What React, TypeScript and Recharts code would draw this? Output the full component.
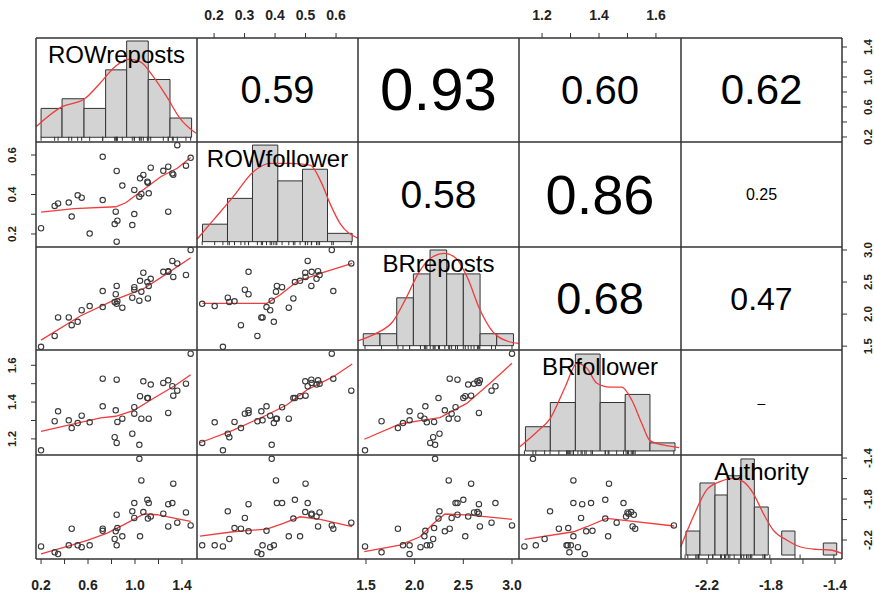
import React from 'react';
import { ComposedChart, Scatter, Line, XAxis, YAxis, ReferenceArea } from 'recharts';

const VARIABLES = ['ROWreposts', 'ROWfollower', 'BRreposts', 'BRfollower', 'Authority'];

const ROW_REPOSTS = [0.2, 0.316, 0.345, 0.436, 0.461, 0.512, 0.546, 0.614, 0.725, 0.725, 0.827, 0.836, 0.844, 0.844, 0.85, 0.892, 0.977, 0.994, 0.994, 1.037, 1.043, 1.054, 1.071, 1.105, 1.11, 1.117, 1.134, 1.241, 1.283, 1.283, 1.318, 1.326, 1.36, 1.434, 1.474];
const ROW_FOLLOWER = [0.229, 0.342, 0.355, 0.359, 0.288, 0.396, 0.384, 0.202, 0.591, 0.372, 0.25, 0.313, 0.519, 0.161, 0.267, 0.445, 0.245, 0.423, 0.301, 0.389, 0.482, 0.403, 0.499, 0.465, 0.46, 0.406, 0.536, 0.52, 0.541, 0.313, 0.507, 0.5, 0.65, 0.546, 0.586];
const BR_REPOSTS = [1.49, 1.66, 1.948, 1.948, 1.828, 1.88, 2.06, 2.125, 2.36, 2.11, 2.19, 2.31, 2.44, 2.16, 2.2, 2.1, 2.255, 2.42, 2.38, 2.21, 2.52, 2.35, 2.645, 2.5, 2.245, 2.44, 2.55, 2.66, 2.67, 2.66, 2.83, 2.58, 2.79, 2.61, 3.0];
const BR_FOLLOWER = [1.138, 1.296, 1.35, 1.301, 1.259, 1.286, 1.326, 1.29, 1.527, 1.377, 1.209, 1.355, 1.522, 1.178, 1.292, 1.31, 1.228, 1.372, 1.337, 1.168, 1.432, 1.31, 1.513, 1.422, 1.422, 1.31, 1.495, 1.504, 1.518, 1.341, 1.486, 1.435, 1.462, 1.5, 1.663];
const AUTHORITY = [-2.262, -2.32, -2.337, -2.252, -2.09, -2.252, -2.27, -2.252, -2.09, -2.11, -2.19, -2.115, -1.953, -2.252, -2.083, -2.164, -1.92, -1.839, -1.985, -1.407, -2.164, -1.618, -1.927, -1.807, -1.99, -1.839, -1.97, -1.943, -2.067, -1.85, -1.839, -1.65, -2.03, -1.93, -2.057];
const SERIES = [ROW_REPOSTS, ROW_FOLLOWER, BR_REPOSTS, BR_FOLLOWER, AUTHORITY];

// histograms on the diagonal: breaks and bar heights (counts)
const RR_BREAKS = [0.2, 0.379, 0.566, 0.75, 0.929, 1.113, 1.298, 1.482];
const RR_COUNTS = [3, 4, 3, 7, 10, 6, 2];
const RF_BREAKS = [0.162, 0.244, 0.326, 0.409, 0.49, 0.572, 0.653];
const RF_COUNTS = [2.1, 5.2, 11.6, 7.3, 8.7, 1];
const BR_BREAKS = [1.472, 1.644, 1.816, 1.987, 2.158, 2.329, 2.5, 2.672, 2.843, 3.015];
const BR_COUNTS = [1, 1, 4, 6, 8, 6, 6, 1, 1];
const BF_BREAKS = [1.1416, 1.229, 1.317, 1.404, 1.492, 1.579, 1.667];
const BF_COUNTS = [3, 6, 12, 6, 7, 1];
const A_BREAKS = [-2.331, -2.244, -2.15, -2.073, -1.988, -1.904, -1.817, -1.733, -1.65, -1.562, -1.473, -1.389];
const A_COUNTS = [2, 6, 5, 6.6, 8, 4, 0, 2, 0, 0, 1];
const HIST_BREAKS = [RR_BREAKS, RF_BREAKS, BR_BREAKS, BF_BREAKS, A_BREAKS];
const HIST_COUNTS = [RR_COUNTS, RF_COUNTS, BR_COUNTS, BF_COUNTS, A_COUNTS];

// density curves (x, count scale)
const RR_DENSITY = [[0.157, 1.1], [0.379, 3.18], [0.566, 3.95], [0.702, 5.61], [0.83, 7.33], [0.943, 8.1], [1.043, 7.85], [1.156, 6.29], [1.27, 4.22], [1.383, 1.97], [1.519, 0.42]];
const RF_DENSITY = [[0.144, 0.29], [0.198, 2.61], [0.263, 5.41], [0.329, 8.4], [0.384, 9.4], [0.449, 9.4], [0.515, 9.2], [0.553, 7.0], [0.58, 4.6], [0.613, 2.2], [0.672, 0.41]];
const BR_DENSITY = [[1.418, 0.4], [1.603, 1.03], [1.774, 2.0], [1.911, 3.96], [2.048, 6.2], [2.186, 7.44], [2.305, 7.72], [2.425, 7.3], [2.545, 5.63], [2.664, 3.13], [2.802, 1.17], [2.973, 0.33], [3.07, 0.2]];
const BF_DENSITY = [[1.1216, 0.53], [1.1825, 2.39], [1.229, 4.04], [1.2816, 7.96], [1.3225, 10.85], [1.3575, 10.24], [1.3925, 8.38], [1.439, 7.9], [1.48, 7.9], [1.515, 6.31], [1.55, 3.43], [1.579, 1.28], [1.6255, 0.74], [1.6816, 0.41]];
const A_DENSITY = [[-2.364, 0.69], [-2.286, 3.19], [-2.202, 5.42], [-2.119, 6.11], [-2.036, 6.39], [-1.973, 6.11], [-1.911, 5.14], [-1.848, 3.47], [-1.786, 2.08], [-1.702, 1.25], [-1.619, 0.69], [-1.514, 0.47], [-1.431, 0.42], [-1.358, 0.14]];
const DENSITIES = [RR_DENSITY, RF_DENSITY, BR_DENSITY, BF_DENSITY, A_DENSITY];

// smoothers in the lower panels (x = column variable, y = row variable)
const LOESS_RF_RR = [[0.2, 0.311], [0.481, 0.328], [0.836, 0.338], [0.921, 0.358], [1.048, 0.414], [1.219, 0.49], [1.36, 0.533], [1.474, 0.588]];
const LOESS_BR_RR = [[0.2, 1.594], [0.538, 1.974], [0.821, 2.219], [1.077, 2.4], [1.275, 2.636], [1.474, 2.88]];
const LOESS_BF_RR = [[0.2, 1.241], [0.424, 1.274], [0.708, 1.314], [0.836, 1.323], [0.991, 1.355], [1.162, 1.422], [1.332, 1.486], [1.474, 1.549]];
const LOESS_A_RR = [[0.2, -2.334], [0.424, -2.262], [0.594, -2.203], [0.764, -2.132], [0.906, -2.05], [1.077, -1.946], [1.19, -1.953], [1.332, -1.985], [1.474, -2.018]];
const LOESS_BR_RF = [[0.162, 2.167], [0.373, 2.167], [0.416, 2.297], [0.471, 2.505], [0.548, 2.636], [0.653, 2.792]];
const LOESS_BF_RF = [[0.154, 1.179], [0.263, 1.248], [0.373, 1.33], [0.438, 1.384], [0.504, 1.466], [0.591, 1.538], [0.653, 1.607]];
const LOESS_A_RF = [[0.154, -2.161], [0.263, -2.119], [0.373, -2.093], [0.427, -2.037], [0.482, -1.973], [0.548, -1.998], [0.653, -2.07]];
const LOESS_BF_BR = [[1.483, 1.198], [1.849, 1.281], [2.055, 1.299], [2.26, 1.316], [2.535, 1.393], [2.774, 1.502], [3.0, 1.611]];
const LOESS_A_BR = [[1.483, -2.314], [1.849, -2.249], [2.055, -2.168], [2.209, -2.024], [2.312, -1.946], [2.569, -1.956], [3.0, -1.998]];
const LOESS_A_BF = [[1.139, -2.193], [1.311, -2.119], [1.357, -2.07], [1.427, -1.988], [1.497, -2.011], [1.664, -2.063]];
const LOESS_BY_CELL: Record<string, number[][]> = {
  '1-0': LOESS_RF_RR, '2-0': LOESS_BR_RR, '3-0': LOESS_BF_RR, '4-0': LOESS_A_RR,
  '2-1': LOESS_BR_RF, '3-1': LOESS_BF_RF, '4-1': LOESS_A_RF,
  '3-2': LOESS_BF_BR, '4-2': LOESS_A_BR, '4-3': LOESS_A_BF,
};

// correlations in the upper panels
const UPPER_CELLS = [[0, 1], [0, 2], [0, 3], [0, 4], [1, 2], [1, 3], [1, 4], [2, 3], [2, 4], [3, 4]];
const CORR_TEXT = ['0.59', '0.93', '0.60', '0.62', '0.58', '0.86', '0.25', '0.68', '0.47', '–'];

// tick values per variable, and which of them carry labels
const RR_TICKS = [0.2, 0.4, 0.6, 0.8, 1.0, 1.2, 1.4];
const RF_TICKS = [0.2, 0.3, 0.4, 0.5, 0.6];
const BR_TICKS = [1.5, 2.0, 2.5, 3.0];
const BF_TICKS = [1.2, 1.3, 1.4, 1.5, 1.6];
const A_TICKS = [-2.2, -2.0, -1.8, -1.6, -1.4];
const RR_LABELS = [0.2, 0.6, 1.0, 1.4];
const RF_LABELS_TOP = [0.2, 0.3, 0.4, 0.5, 0.6];
const RF_LABELS_LEFT = [0.2, 0.4, 0.6];
const BR_LABELS = [1.5, 2.0, 2.5, 3.0];
const BF_LABELS = [1.2, 1.4, 1.6];
const A_LABELS = [-2.2, -1.8, -1.4];

// ---- layout ----
const COL_X = [36, 197, 358, 519, 681, 842];
const ROW_Y = [38, 142, 247, 350, 455, 559];
const X_DOMAINS = [[0.157, 1.528], [0.144, 0.672], [1.418, 3.072], [1.119, 1.688], [-2.3625, -1.356]];
const Y_DOMAINS = [[0.133, 1.52], [0.134, 0.666], [1.44, 3.047], [1.1125, 1.683], [-2.385, -1.37]];
const HIST_Y_DOMAINS = [[-0.49, 10.31], [-0.64, 11.97], [-0.36, 8.25], [-0.5, 12.5], [-0.33, 8.33]];
const CORR_FONT = [38, 60, 40, 42, 39, 56, 16, 45, 32, 14];
const PAD = 5;
const EXT = 24;
const RED = '#f03c3c';
const INK = '#333';
const FONT = '"Liberation Sans", Arial, sans-serif';
const ZERO = { top: 0, right: 0, bottom: 0, left: 0 };

const toXY = (pairs: number[][]) => pairs.map(([x, y]) => ({ x, y }));
const hasLabel = (labels: number[], v: number) => labels.some((l) => Math.abs(l - v) < 1e-6);

const renderPoint = (p: any) => (
  <circle cx={p.cx} cy={p.cy} r={2.7} fill="none" stroke="#3a3a3a" strokeWidth={1.1} />
);
const renderRug = (p: any) => (
  <line x1={p.cx} x2={p.cx} y1={p.cy - 0.5} y2={p.cy + 3.5} stroke={INK} strokeWidth={1} />
);

const HTick = (props: any) => {
  const { x, y, payload, labels, shift } = props;
  if (!hasLabel(labels, payload.value)) return <g />;
  return (
    <text x={x} y={y + shift} textAnchor="middle" fontSize={14} fontWeight={700} fill="#222" fontFamily={FONT}>
      {payload.value.toFixed(1)}
    </text>
  );
};

const VTick = (props: any) => {
  const { x, y, payload, labels } = props;
  if (!hasLabel(labels, payload.value)) return <g />;
  return (
    <g transform={`translate(${x},${y}) rotate(-90)`}>
      <text x={0} y={0} dy="0.36em" textAnchor="middle" fontSize={11.5} fontWeight={700} fill="#222" fontFamily={FONT}>
        {payload.value.toFixed(1)}
      </text>
    </g>
  );
};

function Panel({ r, c, xDomain, yDomain, children }: any) {
  const w = COL_X[c + 1] - COL_X[c];
  const h = ROW_Y[r + 1] - ROW_Y[r];
  const kx = ((xDomain[1] - xDomain[0]) / w) * PAD;
  const ky = ((yDomain[1] - yDomain[0]) / h) * PAD;
  return (
    <div style={{ position: 'absolute', left: COL_X[c] - PAD, top: ROW_Y[r] - PAD }}>
      <ComposedChart width={w + 2 * PAD} height={h + 2 * PAD} margin={ZERO}>
        <XAxis type="number" dataKey="x" domain={[xDomain[0] - kx, xDomain[1] + kx]} allowDataOverflow hide />
        <YAxis type="number" dataKey="y" domain={[yDomain[0] - ky, yDomain[1] + ky]} allowDataOverflow hide />
        {children}
      </ComposedChart>
    </div>
  );
}

function LowerPanel({ r, c }: { r: number; c: number }) {
  const pts = SERIES[c].map((v, i) => ({ x: v, y: SERIES[r][i] }));
  return (
    <Panel r={r} c={c} xDomain={X_DOMAINS[c]} yDomain={Y_DOMAINS[r]}>
      <Scatter data={pts} dataKey="y" shape={renderPoint} isAnimationActive={false} />
      <Line data={toXY(LOESS_BY_CELL[`${r}-${c}`])} dataKey="y" type="linear" stroke={RED} strokeWidth={1.3} dot={false} activeDot={false} isAnimationActive={false} />
    </Panel>
  );
}

function DiagPanel({ i }: { i: number }) {
  const breaks = HIST_BREAKS[i];
  return (
    <Panel r={i} c={i} xDomain={X_DOMAINS[i]} yDomain={HIST_Y_DOMAINS[i]}>
      {HIST_COUNTS[i].map((n, k) => (
        <ReferenceArea key={k} x1={breaks[k]} x2={breaks[k + 1]} y1={0} y2={n} fill="#d3d3d3" fillOpacity={1} stroke={INK} strokeWidth={1} ifOverflow="visible" />
      ))}
      <Line data={toXY(DENSITIES[i])} dataKey="y" type="monotone" stroke={RED} strokeWidth={1.3} dot={false} activeDot={false} isAnimationActive={false} />
      <Scatter data={SERIES[i].map((v) => ({ x: v, y: 0 }))} dataKey="y" shape={renderRug} isAnimationActive={false} />
    </Panel>
  );
}

// horizontal axis strip above or below a column
function ColumnAxis({ c, ticks, labels, side }: any) {
  const w = COL_X[c + 1] - COL_X[c];
  const top = side === 'top' ? 0 : ROW_Y[5] - 2;
  const height = side === 'top' ? ROW_Y[0] + 2 : 38;
  return (
    <div style={{ position: 'absolute', left: COL_X[c] - EXT, top }}>
      <ComposedChart width={w + 2 * EXT} height={height} margin={{ top: 0, bottom: 0, left: EXT, right: EXT }}>
        <XAxis type="number" dataKey="x" orientation={side} height={side === 'top' ? ROW_Y[0] : 36} domain={X_DOMAINS[c]} allowDataOverflow ticks={ticks} interval={0}
          tickSize={5} tickMargin={side === 'top' ? 13 : 16} axisLine={false} tickLine={{ stroke: INK }}
          tick={(p: any) => <HTick {...p} labels={labels} shift={side === 'top' ? 0 : 10} />} />
        <YAxis type="number" dataKey="y" domain={[0, 1]} hide />
      </ComposedChart>
    </div>
  );
}

// vertical axis strip left or right of a row
function RowAxis({ r, ticks, labels, side }: any) {
  const h = ROW_Y[r + 1] - ROW_Y[r];
  const left = side === 'left' ? 0 : COL_X[5] - 2;
  const width = side === 'left' ? COL_X[0] + 2 : 34;
  return (
    <div style={{ position: 'absolute', left, top: ROW_Y[r] - EXT }}>
      <ComposedChart width={width} height={h + 2 * EXT} margin={{ top: EXT, bottom: EXT, left: 0, right: 0 }}>
        <XAxis type="number" dataKey="x" domain={[0, 1]} hide />
        <YAxis type="number" dataKey="y" orientation={side} width={side === 'left' ? COL_X[0] : 32} domain={Y_DOMAINS[r]} allowDataOverflow ticks={ticks} interval={0}
          tickSize={5} tickMargin={side === 'left' ? 19 : 21} axisLine={false} tickLine={{ stroke: INK }}
          tick={(p: any) => <VTick {...p} labels={labels} />} />
      </ComposedChart>
    </div>
  );
}

export default function App() {
  const lower: [number, number][] = [];
  for (let r = 1; r < 5; r++) for (let c = 0; c < r; c++) lower.push([r, c]);

  return (
    <div style={{ position: 'absolute', left: 0, top: 0, width: 874, height: 595, background: '#fff', fontFamily: FONT, overflow: 'hidden' }}>
      {[0, 1, 2, 3, 4].map((i) => <DiagPanel key={`d${i}`} i={i} />)}
      {lower.map(([r, c]) => <LowerPanel key={`l${r}${c}`} r={r} c={c} />)}

      <ColumnAxis c={1} side="top" ticks={RF_TICKS} labels={RF_LABELS_TOP} />
      <ColumnAxis c={3} side="top" ticks={BF_TICKS} labels={BF_LABELS} />
      <ColumnAxis c={0} side="bottom" ticks={RR_TICKS} labels={RR_LABELS} />
      <ColumnAxis c={2} side="bottom" ticks={BR_TICKS} labels={BR_LABELS} />
      <ColumnAxis c={4} side="bottom" ticks={A_TICKS} labels={A_LABELS} />
      <RowAxis r={1} side="left" ticks={RF_TICKS} labels={RF_LABELS_LEFT} />
      <RowAxis r={3} side="left" ticks={BF_TICKS} labels={BF_LABELS} />
      <RowAxis r={0} side="right" ticks={RR_TICKS} labels={RR_LABELS} />
      <RowAxis r={2} side="right" ticks={BR_TICKS} labels={BR_LABELS} />
      <RowAxis r={4} side="right" ticks={A_TICKS} labels={A_LABELS} />

      {/* panel frames */}
      <svg width={874} height={595} style={{ position: 'absolute', left: 0, top: 0, pointerEvents: 'none' }}>
        {COL_X.map((x) => <line key={`v${x}`} x1={x} x2={x} y1={ROW_Y[0]} y2={ROW_Y[5]} stroke={INK} strokeWidth={1.5} />)}
        {ROW_Y.map((y) => <line key={`h${y}`} x1={COL_X[0]} x2={COL_X[5]} y1={y} y2={y} stroke={INK} strokeWidth={1.5} />)}
      </svg>

      {/* variable names on the diagonal */}
      {VARIABLES.map((name, i) => (
        <div key={name} style={{ position: 'absolute', left: COL_X[i], top: ROW_Y[i] + 5, width: COL_X[i + 1] - COL_X[i], textAlign: 'center', fontSize: 24, lineHeight: '24px', color: '#000' }}>
          {name}
        </div>
      ))}

      {/* correlation coefficients */}
      {UPPER_CELLS.map(([r, c], k) => (
        <div key={`u${k}`} style={{ position: 'absolute', left: COL_X[c], top: ROW_Y[r], width: COL_X[c + 1] - COL_X[c], height: ROW_Y[r + 1] - ROW_Y[r], display: 'flex', alignItems: 'center', justifyContent: 'center', fontSize: CORR_FONT[k], lineHeight: 1, color: '#000' }}>
          {CORR_TEXT[k]}
        </div>
      ))}
    </div>
  );
}
